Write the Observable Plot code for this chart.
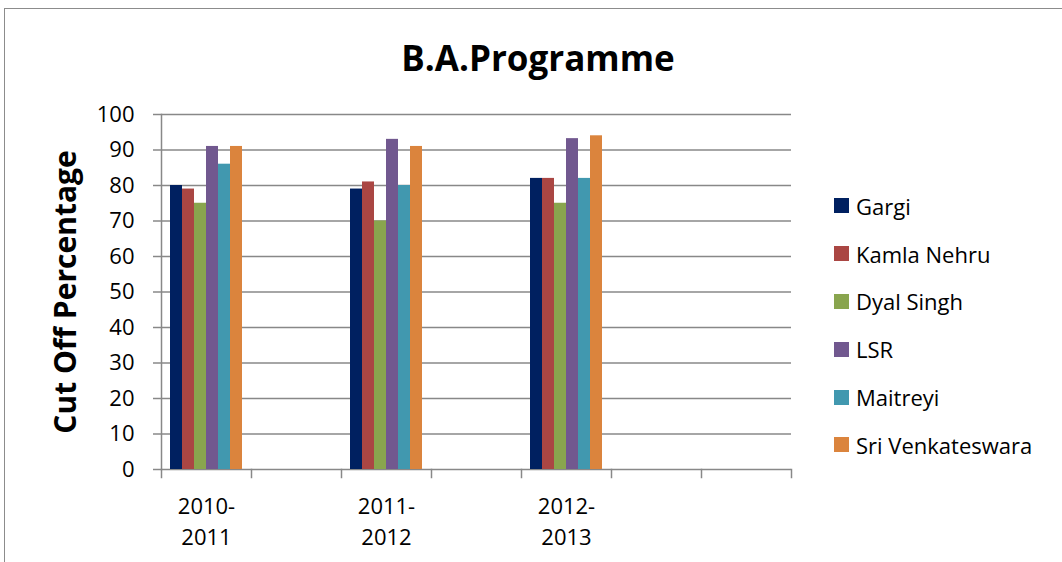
<!DOCTYPE html>
<html>
<head>
<meta charset="utf-8">
<script src="https://cdn.jsdelivr.net/npm/d3@7"></script>
<script src="https://cdn.jsdelivr.net/npm/@observablehq/plot@0.6"></script>
<style>
  html, body { margin: 0; padding: 0; background: #fff; }
  #wrap { position: relative; width: 1062px; height: 562px; overflow: hidden; font-family: "Open Sans", sans-serif; }
  #chart svg { position: absolute; left: 0; top: 0; background: transparent; }
  #border { position: absolute; left: 4px; top: 8px; width: 2000px; height: 2000px;
            border-left: 1.5px solid #8c8c8c; border-top: 1.5px solid #8c8c8c; pointer-events: none; z-index: 2; }
  #title { position: absolute; left: 0; width: 1076px; top: 37px; text-align: center;
           font: 700 35px/42px "Open Sans", sans-serif; color: #000; z-index: 3; }
  #legend { position: absolute; left: 834px; top: 182px; z-index: 3; }
  .lg-swatches { font: 22px "Open Sans", sans-serif !important; color: #000 !important; margin: 0 !important; }
  .lg-swatch { height: 47.8px !important; padding: 0 !important; display: flex !important; align-items: center !important; }
  .lg-swatch svg { margin-right: 7px !important; }
  g[aria-label="y-axis label"] text, g[aria-label="y-axis label"] { font-size: 30px; font-weight: 700; }
</style>
</head>
<body>
<div id="wrap">
  <div id="chart"></div>
  <div id="title">B.A.Programme</div>
  <div id="legend"></div>
  <div id="border"></div>
</div>
<script>
const colleges = ["Gargi", "Kamla Nehru", "Dyal Singh", "LSR", "Maitreyi", "Sri Venkateswara"];
const years = ["2010-2011", "2011-2012", "2012-2013"];
const slots = ["2010-2011", "gap1", "2011-2012", "gap2", "2012-2013", "gap3", "gap4"];
const gargi = [80, 79, 82];
const kamlaNehru = [79, 81, 82];
const dyalSingh = [75, 70, 75];
const lsr = [91, 93, 93.2];
const maitreyi = [86, 80, 82];
const sriVenkateswara = [91, 91, 94];
const colors = ["#002060", "#AA4643", "#89A54E", "#71588F", "#4198AF", "#DB843D"];
const yTicks = [0, 10, 20, 30, 40, 50, 60, 70, 80, 90, 100];

const series = [gargi, kamlaNehru, dyalSingh, lsr, maitreyi, sriVenkateswara];
const data = [];
slots.forEach(slot => {
  const i = years.indexOf(slot);
  colleges.forEach((c, j) => data.push({year: slot, college: c, value: i >= 0 ? series[j][i] : null}));
});

const grid = "#888888";
const H = 562, MT = 114, MB = 93;
const plotH = H - MT - MB;

const chart = Plot.plot({
  width: 1062,
  height: H,
  marginLeft: 159,
  marginRight: 270,
  marginTop: MT,
  marginBottom: MB,
  style: {fontFamily: "Open Sans, sans-serif", fontSize: "22px", color: "#000", background: "transparent"},
  facet: {data, x: "year"},
  fx: {domain: slots, padding: 0, axis: null, label: null},
  x: {domain: colleges, paddingInner: 0, paddingOuter: 0.735, axis: null},
  y: {domain: [0, 100], axis: null},
  color: {domain: colleges, range: colors},
  marks: [
    Plot.ruleY(yTicks, {stroke: grid, strokeWidth: 1.5}),
    Plot.barY(data, {x: "college", y: "value", fill: "college"}),
    Plot.frame({anchor: "left", facetAnchor: "left", stroke: grid, strokeWidth: 1.5}),
    Plot.frame({anchor: "left", insetTop: plotH, insetBottom: -8, stroke: grid, strokeWidth: 1.5}),
    Plot.frame({anchor: "right", facetAnchor: "right", insetTop: plotH, insetBottom: -8, stroke: grid, strokeWidth: 1.5}),
    Plot.axisY({ticks: yTicks, tickSize: 8, tickPadding: 19, fontSize: 22, stroke: grid, strokeWidth: 1.5, fill: "#000",
                label: "Cut Off Percentage", labelAnchor: "center", labelOffset: 107, labelArrow: false}),
    Plot.axisFx({anchor: "bottom", tickSize: 0, tickPadding: 22, fontSize: 22, lineHeight: 1.43, fill: "#000", label: null,
                 tickFormat: d => years.includes(d) ? d.replace("-", "-\n") : ""})
  ]
});
document.getElementById("chart").appendChild(chart);

const leg = Plot.legend({color: {domain: colleges, range: colors}, legend: "swatches", columns: 1,
                         swatchSize: 15, className: "lg"});
document.getElementById("legend").appendChild(leg);
</script>
</body>
</html>
